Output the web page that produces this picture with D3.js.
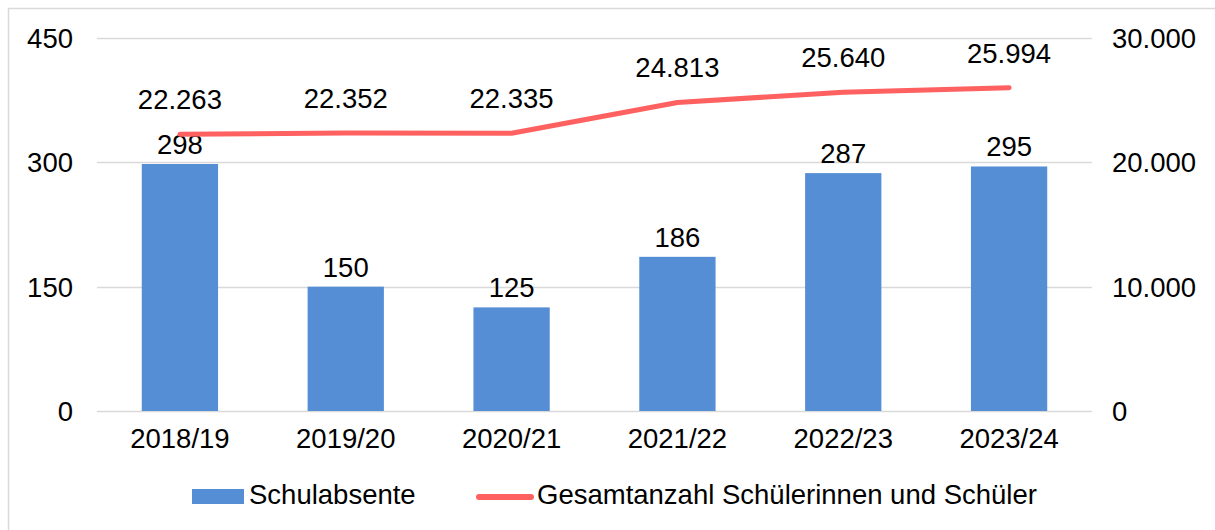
<!DOCTYPE html>
<meta charset="utf-8">
<script src="https://d3js.org/d3.v7.min.js"></script>
<style>
  body { margin: 0; background: #fff; font-family: 'Liberation Sans', Arial, sans-serif; }
</style>
<div id="chart"></div>
<script>
// data
var years = ["2018/19", "2019/20", "2020/21", "2021/22", "2022/23", "2023/24"];
var absente = [298, 150, 125, 186, 287, 295];
var gesamt = [22263, 22352, 22335, 24813, 25640, 25994];
var leftTicks = [0, 150, 300, 450];
var rightTicks = [0, 10000, 20000, 30000];

var W = 1215, H = 530;
var margin = {top: 38, right: 123, bottom: 119, left: 97};
var width = W - margin.left - margin.right,
    height = H - margin.top - margin.bottom;
var fs = "27.5px";

var svg = d3.select("#chart").append("svg")
    .attr("width", W)
    .attr("height", H);

// chart frame
svg.append("rect")
    .attr("x", 8.5).attr("y", 8.5)
    .attr("width", W + 10).attr("height", H + 10)
    .attr("fill", "none")
    .attr("stroke", "#d9d9d9")
    .attr("stroke-width", 1.5);

var g = svg.append("g")
    .attr("transform", "translate(" + margin.left + "," + margin.top + ")");

var x = d3.scaleBand().domain(years).range([0, width]).paddingInner(0.54).paddingOuter(0.27);
var y = d3.scaleLinear().domain([0, 450]).range([height, 0]);
var y2 = d3.scaleLinear().domain([0, 30000]).range([height, 0]);

var fmt = function(v) { return d3.format(",")(v).replace(/,/g, "."); };

// gridlines
g.selectAll(".grid")
    .data(leftTicks)
    .enter().append("line")
    .attr("x1", 0).attr("x2", width)
    .attr("y1", function(d) { return Math.round(y(d)) + 0.5; })
    .attr("y2", function(d) { return Math.round(y(d)) + 0.5; })
    .attr("stroke", "#d9d9d9")
    .attr("stroke-width", 1.5);

// left axis labels
g.selectAll(".ly")
    .data(leftTicks)
    .enter().append("text")
    .attr("x", -24)
    .attr("y", function(d) { return y(d); })
    .attr("dy", "0.36em")
    .attr("text-anchor", "end")
    .style("font-size", fs)
    .text(function(d) { return d; });

// right axis labels
g.selectAll(".ry")
    .data(rightTicks)
    .enter().append("text")
    .attr("x", width + 20)
    .attr("y", function(d) { return y2(d); })
    .attr("dy", "0.36em")
    .attr("text-anchor", "start")
    .style("font-size", fs)
    .text(function(d) { return fmt(d); });

// category labels
g.selectAll(".cx")
    .data(years)
    .enter().append("text")
    .attr("x", function(d) { return x(d) + x.bandwidth() / 2; })
    .attr("y", height + 37)
    .attr("text-anchor", "middle")
    .style("font-size", fs)
    .text(function(d) { return d; });

// bars
g.selectAll(".bar")
    .data(absente)
    .enter().append("rect")
    .attr("x", function(d, i) { return x(years[i]); })
    .attr("y", function(d) { return y(d); })
    .attr("width", x.bandwidth())
    .attr("height", function(d) { return height - y(d); })
    .attr("fill", "#558ed5");

g.selectAll(".barlabel")
    .data(absente)
    .enter().append("text")
    .attr("x", function(d, i) { return x(years[i]) + x.bandwidth() / 2; })
    .attr("y", function(d) { return y(d) - 10; })
    .attr("text-anchor", "middle")
    .style("font-size", fs)
    .text(function(d) { return d; });

// line
var line = d3.line()
    .x(function(d, i) { return x(years[i]) + x.bandwidth() / 2; })
    .y(function(d) { return y2(d); });

g.append("path")
    .datum(gesamt)
    .attr("d", line)
    .attr("fill", "none")
    .attr("stroke", "#ff6161")
    .attr("stroke-width", 5)
    .attr("stroke-linejoin", "round")
    .attr("stroke-linecap", "round");

g.selectAll(".linelabel")
    .data(gesamt)
    .enter().append("text")
    .attr("x", function(d, i) { return x(years[i]) + x.bandwidth() / 2; })
    .attr("y", function(d) { return y2(d) - 25; })
    .attr("text-anchor", "middle")
    .style("font-size", fs)
    .text(function(d) { return fmt(d); });

// legend
var leg = svg.append("g");
leg.append("rect")
    .attr("x", 192).attr("y", 489)
    .attr("width", 52).attr("height", 15)
    .attr("fill", "#558ed5");
leg.append("text")
    .attr("x", 249).attr("y", 504)
    .style("font-size", fs)
    .text("Schulabsente");
leg.append("line")
    .attr("x1", 479).attr("x2", 531)
    .attr("y1", 497).attr("y2", 497)
    .attr("stroke", "#ff6161")
    .attr("stroke-width", 6)
    .attr("stroke-linecap", "round");
leg.append("text")
    .attr("x", 537).attr("y", 504)
    .style("font-size", fs)
    .text("Gesamtanzahl Schülerinnen und Schüler");
</script>
